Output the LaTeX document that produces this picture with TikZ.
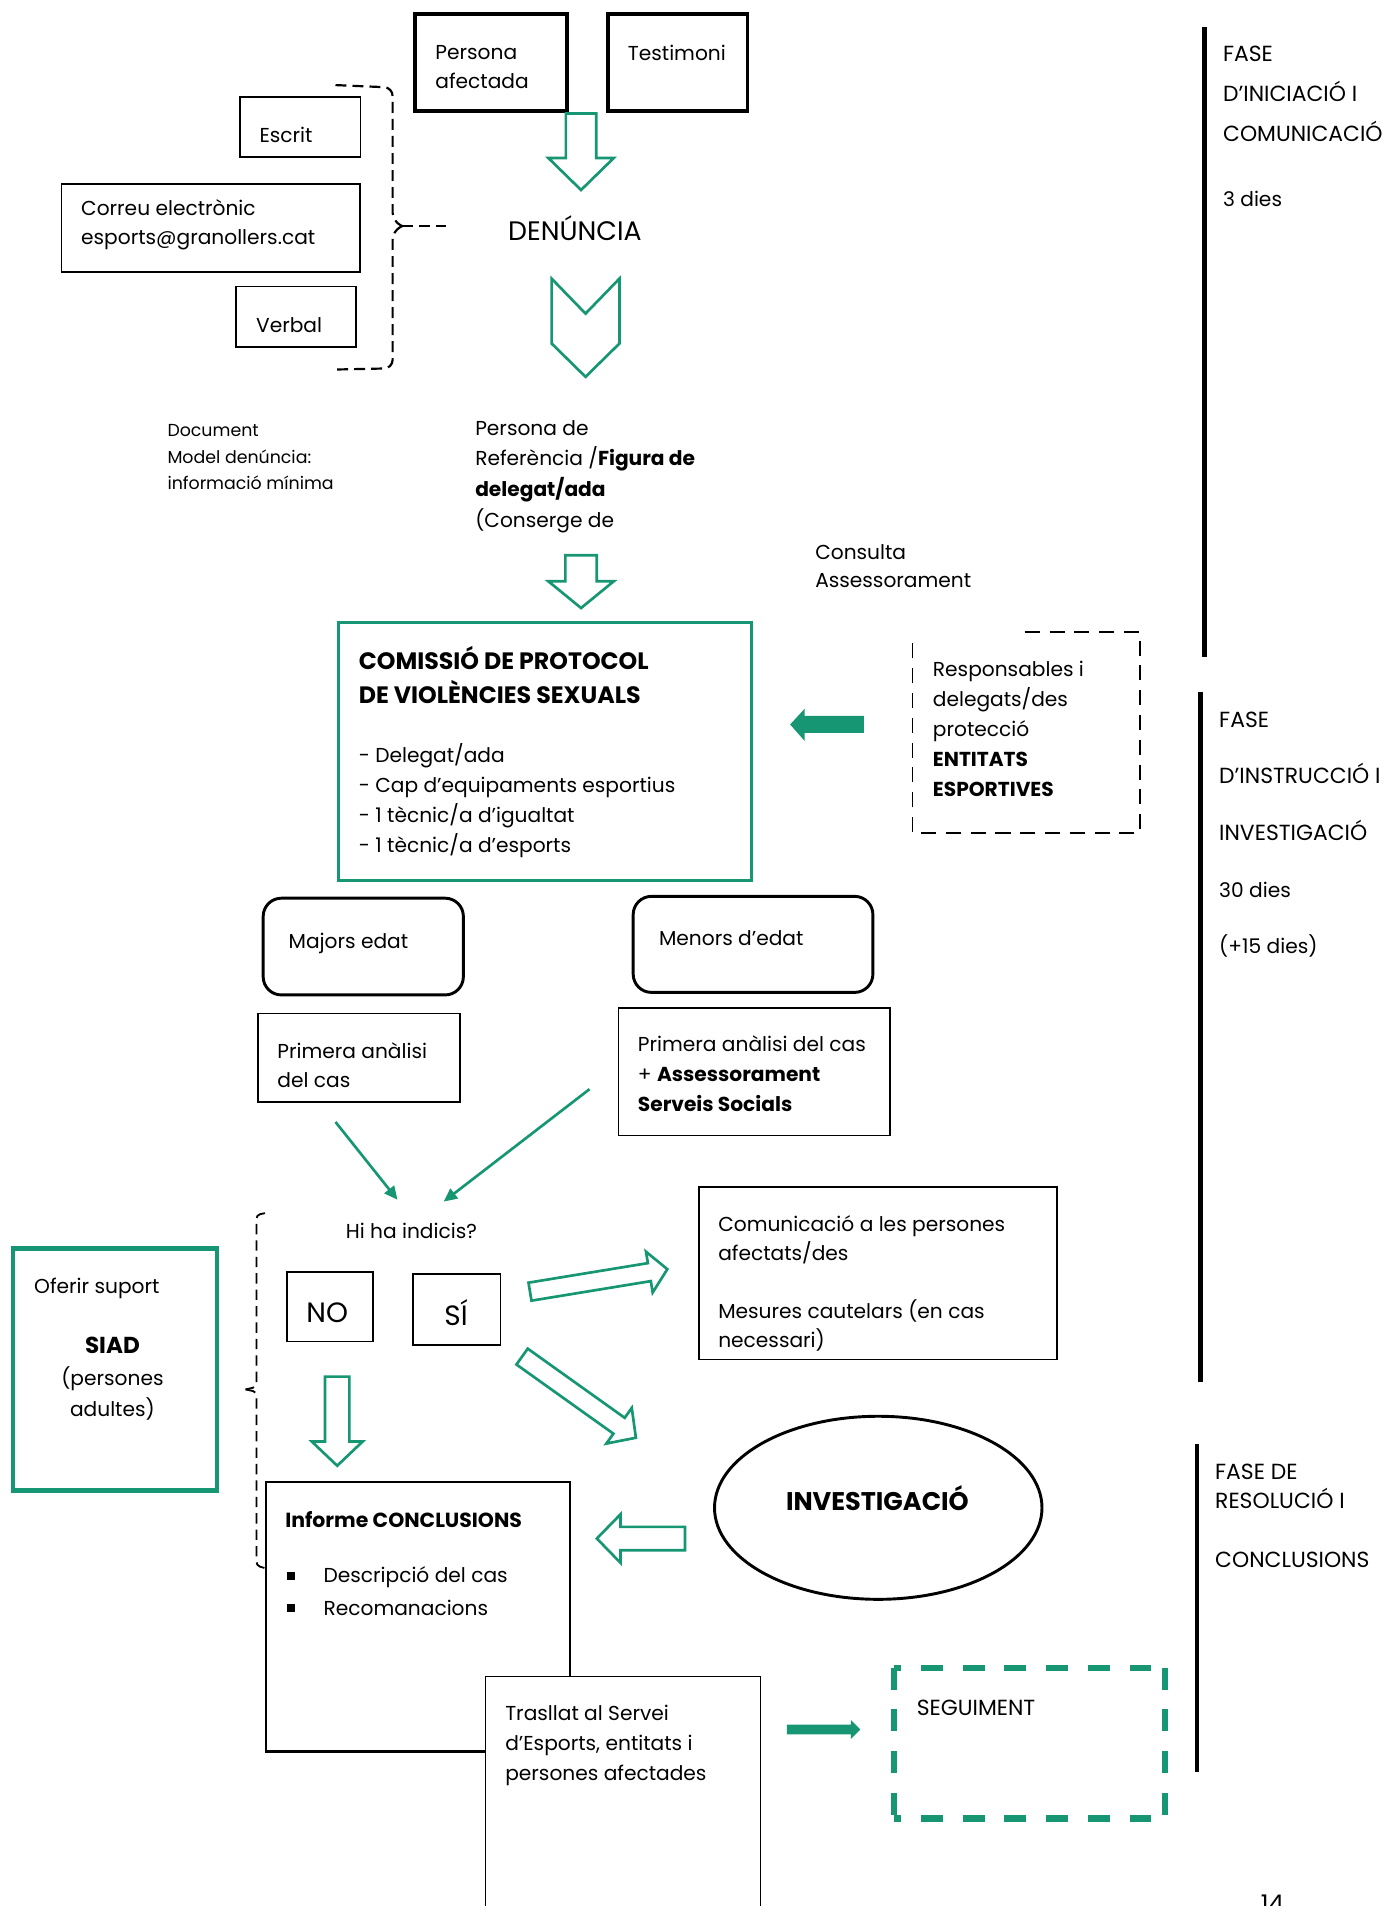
\documentclass[tikz,border=0pt]{standalone}
\usepackage{fontspec}
\setmainfont{Poppins}
\usetikzlibrary{arrows.meta,shapes.geometric}
\definecolor{grn}{RGB}{22,150,115}
\newcommand{\ML}[3]{\fontsize{#1}{#2}\selectfont\begin{tabular}[t]{@{}l@{}}#3\end{tabular}}
\newcommand{\MC}[3]{\fontsize{#1}{#2}\selectfont\begin{tabular}[t]{@{}c@{}}#3\end{tabular}}
\newcommand{\rs}{16.6}
\newcommand{\cs}{18}
\newcommand{\HArrow}[7]{\draw[harrow,shift={(#1,#2)},rotate=#3] (0,-#5) -- ({#4-#7},-#5) -- ({#4-#7},-#6) -- (#4,0) -- ({#4-#7},#6) -- ({#4-#7},#5) -- (0,#5) -- cycle;}
\begin{document}
\begin{tikzpicture}[x=1pt,y=-1pt,
  txt/.style={inner sep=0pt, anchor=base west},
  ctxt/.style={inner sep=0pt, anchor=base},
  thinbox/.style={draw=black, line width=1.4pt, inner sep=0pt, anchor=north west},
  thickbox/.style={draw=black, line width=3.2pt, inner sep=0pt, anchor=north west},
  roundbox/.style={draw=black, line width=2.4pt, rounded corners=15pt, inner sep=0pt, anchor=north west},
  greenbox/.style={draw=grn, line width=2.4pt, inner sep=0pt, anchor=north west},
  harrow/.style={draw=grn, line width=2.2pt, fill=white, line join=miter},
  gline/.style={draw=grn, line width=2.2pt, -{Triangle[length=11pt,width=10pt]}},
  bracedash/.style={draw=black, line width=1.8pt, dash pattern=on 9pt off 5pt},
  phasebar/.style={draw=black, line width=4pt},
]
\useasboundingbox (0,0) rectangle (1141.9,1568);
\clip (0,0) rectangle (1141.9,1568);

% ---------- top ----------
\node[thickbox, minimum width=124.8pt, minimum height=80.2pt] (pa) at (339.8,9.7) {};
\node[txt] (patx) at (358,48.6) {\ML{\rs}{24.4}{Persona\\afectada}};
\node[thickbox, minimum width=114.8pt, minimum height=80.2pt] (test) at (498.5,9.7) {};
\node[txt] (testx) at (516.4,49.5) {\ML{\rs}{24}{Testimoni}};

\node[thinbox, minimum width=98.9pt, minimum height=49.4pt] (escrit) at (197,79.3) {};
\node[txt] (escritx) at (213.3,117) {\ML{\rs}{24}{Escrit}};
\node[thinbox, minimum width=245.6pt, minimum height=72.9pt] (correu) at (49.9,150.4) {};
\node[txt] (correux) at (66.6,177) {\ML{\rs}{24.4}{Correu electrònic\\esports@granollers.cat}};
\node[thinbox, minimum width=98.9pt, minimum height=50pt] (verbal) at (193.4,235) {};
\node[txt] (verbalx) at (210.5,273.4) {\ML{\rs}{24}{Verbal}};

\draw[bracedash, rounded corners=7pt] (276,70) -- (323,72) -- (323,182) -- (331,186);
\draw[bracedash, rounded corners=7pt] (331,186) -- (323,190) -- (323,303) -- (276,304);
\draw[bracedash] (331,186) -- (367,186);

\node[ctxt] (den) at (473,197.5) {\ML{22}{24}{DENÚNCIA}};

\HArrow{478}{93.4}{-90}{62.9}{12.5}{26.9}{26.3}
\draw[harrow] (453.8,229.2) -- (481.7,258) -- (509.6,229.2) -- (509.6,282.6) -- (481.7,310) -- (453.8,282.6) -- cycle;

\node[txt] (refx) at (390.8,358) {\ML{\rs}{25.2}{Persona de\\Referència /\textbf{Figura de}\\\textbf{delegat/ada}\\(Conserge de}};
\node[txt] (docx) at (137.6,359) {\ML{14.3}{22}{Document\\Model denúncia:\\informació mínima}};
\node[txt] (consx) at (670.5,460.3) {\ML{\rs}{23.1}{Consulta\\Assessorament}};

\HArrow{478}{456.8}{-90}{43.4}{12.9}{26.9}{22}

% ---------- comissio ----------
\node[greenbox, minimum width=340.2pt, minimum height=212pt] (com) at (277.1,511) {};
\node[txt] (comt) at (295,551) {\ML{19.5}{27.4}{\textbf{COMISSIÓ DE PROTOCOL}\\\textbf{DE VIOLÈNCIES SEXUALS}}};
\node[txt] (coml) at (295,627) {\ML{\rs}{24.7}{- Delegat/ada\\- Cap d’equipaments esportius\\- 1 tècnic/a d’igualtat\\- 1 tècnic/a d’esports}};

\draw[black, line width=1.3pt, dash pattern=on 12.4pt off 8pt] (843,520) -- (938,520) -- (938,685.5) -- (750.7,685.5) -- (750.7,523);
\coordinate (resp) at (844,603);
\node[txt] (respx) at (767.3,556.8) {\ML{\rs}{24.6}{Responsables i\\delegats/des\\protecció\\\textbf{ENTITATS}\\\textbf{ESPORTIVES}}};
\fill[grn] (710.6,589) -- (662,589) -- (662,583) -- (650,596) -- (662,609.6) -- (662,603) -- (710.6,603) -- cycle;

% ---------- age ----------
\node[roundbox, minimum width=164.7pt, minimum height=79.6pt] (maj) at (215.3,737.7) {};
\node[txt] (majx) at (237.3,780) {\ML{\rs}{24}{Majors edat}};
\node[roundbox, minimum width=197.2pt, minimum height=79pt] (men) at (519.7,736.2) {};
\node[txt] (menx) at (542,778.2) {\ML{\rs}{24}{Menors d’edat}};

\node[thinbox, minimum width=166.2pt, minimum height=73pt] (p1) at (211.4,833) {};
\node[txt] (p1x) at (228,870.5) {\ML{\rs}{24.5}{Primera anàlisi\\del cas}};
\node[thinbox, minimum width=223.7pt, minimum height=104.7pt] (p2) at (508,828.7) {};
\node[txt] (p2x) at (524.6,865.3) {\ML{\rs}{24.6}{Primera anàlisi del cas\\+ \textbf{Assessorament}\\\textbf{Serveis Socials}}};

\coordinate (g1s) at (276,923);
\coordinate (g1e) at (327,987);
\coordinate (g2s) at (485,896);
\coordinate (g2e) at (365,988.5);
\draw[gline] (g1s) -- (g1e);
\draw[gline] (g2s) -- (g2e);

% ---------- decision ----------
\node[ctxt] (hix) at (338.4,1018.7) {\ML{\rs}{24}{Hi ha indicis?}};
\node[thinbox, minimum width=71pt, minimum height=57.4pt] (no) at (235.3,1045.6) {};
\node[ctxt] (nox) at (269.2,1088) {\ML{23}{24}{NO}};
\node[thinbox, minimum width=71.8pt, minimum height=58pt] (si) at (339.3,1047.5) {};
\node[ctxt] (six) at (375.2,1090.3) {\ML{23}{24}{SÍ}};

\draw[bracedash, line width=1.5pt, dash pattern=on 8.5pt off 5pt, rounded corners=3pt] (218,998) -- (211,999.5) -- (211,1141) -- (202,1143);
\draw[bracedash, line width=1.5pt, dash pattern=on 8.5pt off 5pt, rounded corners=3pt] (202,1143) -- (211,1145) -- (211,1288) -- (218,1290);

\node[greenbox, line width=3.8pt, minimum width=167.8pt, minimum height=199.2pt] (siad) at (8.8,1025.3) {};
\node[txt] (ofx) at (27.9,1064.3) {\ML{\rs}{24}{Oferir suport}};
\node[ctxt] (siadx) at (92.5,1113.7) {\MC{19}{25.8}{\textbf{SIAD}\\{\fontsize{\rs}{24}\selectfont(persones}\\{\fontsize{\rs}{24}\selectfont adultes)}}};

\node[thinbox, minimum width=294.8pt, minimum height=142.1pt] (comu) at (574.2,975.7) {};
\node[txt] (comux) at (590.7,1013.5) {\ML{\rs}{23.8}{Comunicació a les persones\\afectats/des\\ \\Mesures cautelars (en cas\\necessari)}};

\HArrow{436}{1062.6}{9.3}{114.5}{7.5}{17}{15}
\HArrow{429.5}{1116}{-35.5}{115}{8}{18}{17}
\HArrow{277.4}{1132.5}{-90}{73.3}{10}{21}{20}

% ---------- investigacio ----------
\node[draw=black, line width=2.4pt, ellipse, minimum width=269.4pt, minimum height=150.6pt, inner sep=0pt] (inv) at (722.5,1240.4) {};
\node[ctxt] (invx) at (721.8,1242.4) {\ML{21}{24}{\textbf{INVESTIGACIÓ}}};
\HArrow{563.5}{1265.7}{180}{72.5}{9.6}{20}{19.5}

\node[draw=black, line width=2pt, inner sep=0pt, anchor=north west, minimum width=250pt, minimum height=221.9pt] (inf) at (217.7,1218) {};
\node[txt] (infx) at (234.5,1256.3) {\ML{16.8}{24}{\textbf{Informe CONCLUSIONS}}};
\fill (236.1,1293) rectangle ++(6.4,6.4);
\fill (236.1,1319.6) rectangle ++(6.4,6.4);
\node[txt] (b1) at (266,1302.2) {\ML{\rs}{24}{Descripció del cas}};
\node[txt] (b2) at (266,1328.8) {\ML{\rs}{24}{Recomanacions}};

\node[thinbox, fill=white, minimum width=226.2pt, minimum height=250pt] (tras) at (398.8,1378.4) {};
\node[txt] (trasx) at (415.5,1415) {\ML{\rs}{25}{Trasllat al Servei\\d’Esports, entitats i\\persones afectades}};

\fill[grn] (647.4,1418.8) -- (700,1418.8) -- (700,1415) -- (707.7,1422.8) -- (700,1430.6) -- (700,1426.8) -- (647.4,1426.8) -- cycle;

\coordinate (sgA) at (735.4,1372);
\coordinate (sgB) at (958.4,1372);
\coordinate (sgC) at (958.4,1496);
\coordinate (sgD) at (735.4,1496);
\draw[grn, line width=5pt, dash pattern=on 18pt off 16.3pt] (sgA) -- (sgD);
\draw[grn, line width=5pt, dash pattern=on 18pt off 16.3pt] (sgB) -- (sgC);
\draw[grn, line width=5pt, dash pattern=on 18pt off 16.3pt, dash phase=12pt] (sgA) -- (sgB);
\draw[grn, line width=5pt, dash pattern=on 18pt off 16.3pt, dash phase=12pt] (sgD) -- (sgC);
\node[txt] (segx) at (754,1411.3) {\ML{\cs}{24}{SEGUIMENT}};

% ---------- phases ----------
\draw[phasebar] (991,22) -- (991,540.5);
\node[txt] (f1) at (1006,50.8) {\ML{\cs}{32.6}{FASE\\D’INICIACIÓ I\\COMUNICACIÓ}};
\node[txt] (f1d) at (1006,170) {\ML{\rs}{24}{3 dies}};
\draw[phasebar] (987.6,569) -- (987.6,1137);
\node[txt] (f2) at (1002.8,598.3) {\ML{\cs}{46.55}{FASE\\D’INSTRUCCIÓ I\\INVESTIGACIÓ\\{\fontsize{\rs}{24}\selectfont 30 dies}\\{\fontsize{\rs}{24}\selectfont (+15 dies)}}};
\draw[phasebar] (984.7,1188) -- (984.7,1457.7);
\node[txt] (f3) at (999.5,1217) {\ML{\cs}{24.2}{FASE DE\\RESOLUCIÓ I\\ \\CONCLUSIONS}};

\node[inner sep=0pt, anchor=north west] (pg) at (1037,1556) {\ML{20}{24}{14}};
\end{tikzpicture}
\end{document}
